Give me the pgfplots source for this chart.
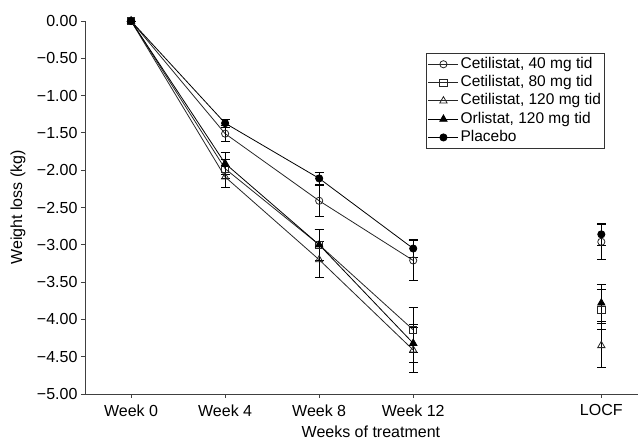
\documentclass[border=0pt]{standalone}
\usepackage{fontspec}
\setmainfont{Liberation Sans}
\usepackage{pgfplots}
\pgfplotsset{compat=1.18}
\newcommand{\fs}{\fontsize{16}{18}\selectfont}
\begin{document}
\begin{tikzpicture}
\begin{axis}[
  name=ax,
  scale only axis,
  width=553pt, height=373pt,
  xmin=-0.49, xmax=5.39,
  ymin=-5, ymax=0,
  clip=false,
  axis x line*=bottom, axis y line*=left,
  axis line style={-, black!75, line width=0.9pt},
  tick align=outside,
  major tick length=4pt,
  tick style={black!75, line width=0.8pt},
  xtick={0,1,2,3,5},
  xticklabels={Week 0, Week 4, Week 8, Week 12, LOCF},
  ytick={0,-0.5,-1,-1.5,-2,-2.5,-3,-3.5,-4,-4.5,-5},
  yticklabels={0.00,−0.50,−1.00,−1.50,−2.00,−2.50,−3.00,−3.50,−4.00,−4.50,−5.00},
  ticklabel style={font=\fs},
  xticklabel style={yshift=-3pt},
  xlabel={Weeks of treatment},
  ylabel={Weight loss (kg)},
  label style={font=\fs},
  xlabel style={at={(axis description cs:0.517,-0.102)}, anchor=center},
  ylabel style={at={(axis description cs:-0.121,0.5)}, anchor=center},
  legend style={font=\fontsize{15.5}{18}\selectfont, at={(axis description cs:0.616,0.915)}, anchor=north west,
    draw=black!80, line width=0.8pt, inner sep=2pt, row sep=0pt,
    nodes={inner sep=1.75pt, text height=11.5pt, text depth=3.3pt}},
  legend cell align=left,
  legend image code/.code={\draw[mark repeat=2,mark phase=2] plot coordinates {(0pt,0pt) (15pt,0pt) (30pt,0pt)};},
  every axis plot/.append style={line width=0.8pt},
  error bars/y dir=both, error bars/y explicit,
  error bars/error mark options={rotate=90, mark size=4.5pt, line width=0.8pt, black},
  error bars/error bar style={line width=0.8pt, black},
]
% Cetilistat 40
\addplot[black!85, mark=o, mark size=3.6pt, mark options={fill=white, solid}]
  coordinates {(0,0) +- (0,0) (1,-1.51) +- (0,0.11) (2,-2.41) +- (0,0.21) (3,-3.21) +- (0,0.27)};
\addlegendentry{Cetilistat, 40 mg tid}
% Cetilistat 80
\addplot[black!85, mark=square, mark size=3.6pt, mark options={fill=white, solid}]
  coordinates {(0,0) +- (0,0) (1,-1.98) +- (0,0.13) (2,-3.00) +- (0,0.21) (3,-4.14) +- (0,0.30)};
\addlegendentry{Cetilistat, 80 mg tid}
% Cetilistat 120
\addplot[black!85, mark=triangle, mark size=4.2pt, mark options={fill=white, solid}]
  coordinates {(0,0) +- (0,0) (1,-2.09) +- (0,0.14) (2,-3.20) +- (0,0.24) (3,-4.41) +- (0,0.30)};
\addlegendentry{Cetilistat, 120 mg tid}
% Orlistat
\addplot[black, mark=triangle*, mark size=4.2pt, mark options={fill=black, solid}]
  coordinates {(0,0) +- (0,0) (1,-1.91) +- (0,0.15) (2,-3.00) +- (0,0.21) (3,-4.32) +- (0,0.25)};
\addlegendentry{Orlistat, 120 mg tid}
% Placebo
\addplot[black, mark=*, mark size=3.6pt, mark options={fill=black, solid}]
  coordinates {(0,0) +- (0,0) (1,-1.37) +- (0,0.05) (2,-2.11) +- (0,0.08) (3,-3.05) +- (0,0.12)};
\addlegendentry{Placebo}
% LOCF
\addplot[forget plot, only marks, black!85, mark=o, mark size=3.6pt, mark options={fill=white}]
  coordinates {(5,-2.96) +- (0,0.24)};
\addplot[forget plot, only marks, black!85, mark=square, mark size=3.6pt, mark options={fill=white}]
  coordinates {(5,-3.87) +- (0,0.27)};
\addplot[forget plot, only marks, black!85, mark=triangle, mark size=4.2pt, mark options={fill=white}]
  coordinates {(5,-4.35) +- (0,0.29)};
\addplot[forget plot, only marks, black, mark=triangle*, mark size=4.2pt, mark options={fill=black}]
  coordinates {(5,-3.78) +- (0,0.25)};
\addplot[forget plot, only marks, black, mark=*, mark size=3.6pt, mark options={fill=black}]
  coordinates {(5,-2.86) +- (0,0.15)};
\end{axis}
\pgfresetboundingbox
\path[use as bounding box] ([xshift=-85pt,yshift=-46pt]ax.south west) rectangle ([yshift=21pt]ax.north east);
\end{tikzpicture}
\end{document}
